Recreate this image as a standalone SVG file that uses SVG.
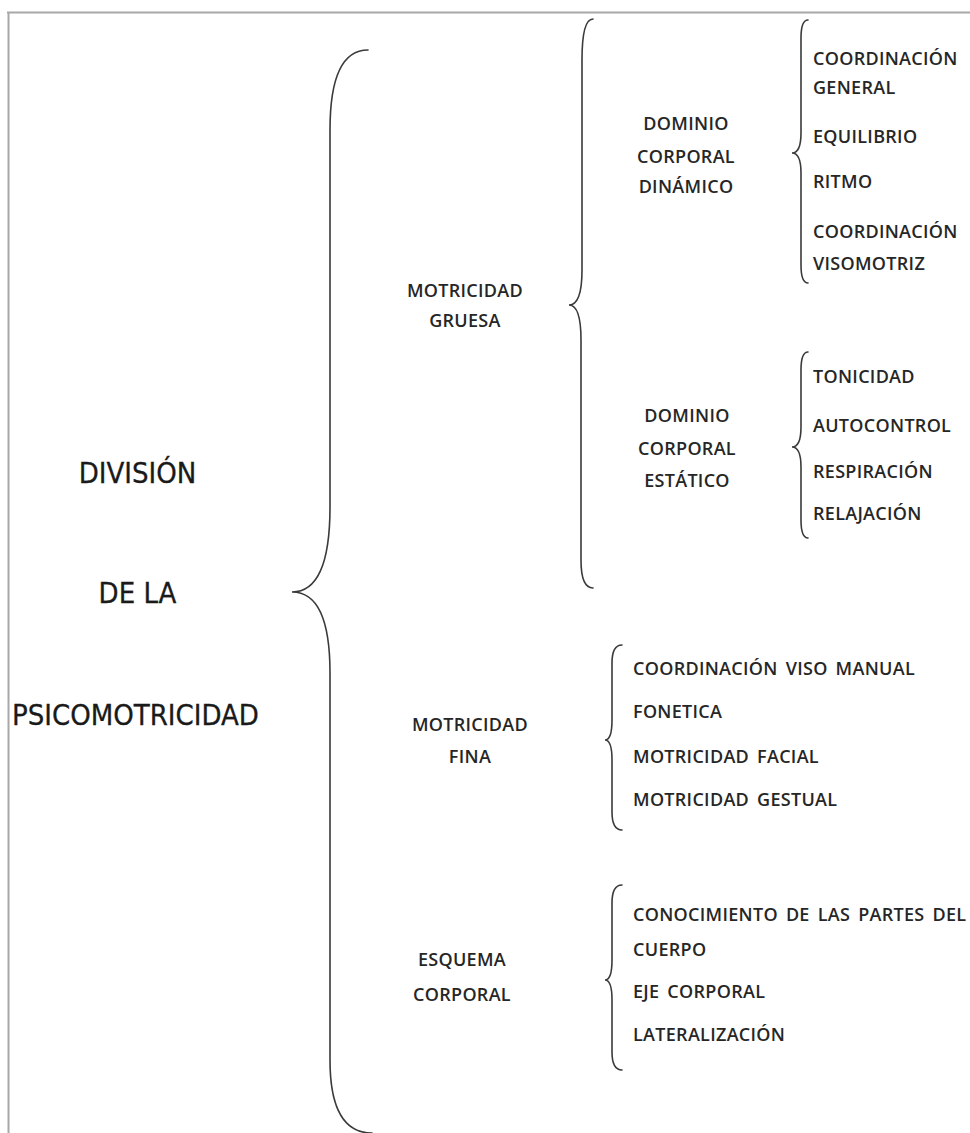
<svg xmlns="http://www.w3.org/2000/svg" width="970" height="1133" viewBox="0 0 970 1133">
<style>
.frame{stroke:#a8a8a8;stroke-width:2;fill:none}
.brace{stroke:#3a3a3a;stroke-width:1.6;fill:none;stroke-linecap:round}
.t{font-family:"DejaVu Sans Condensed","DejaVu Sans",sans-serif;font-stretch:condensed;font-size:29px;fill:#1a1a1a;stroke:#1a1a1a;stroke-width:0.3}
.l{font-family:"Open Sans","Liberation Sans",sans-serif;font-weight:600;font-size:18px;letter-spacing:0.3px;word-spacing:3px;fill:#262626}
.c{text-anchor:middle}
</style>
<rect x="0" y="0" width="970" height="1133" fill="#fff"/>
<path class="frame" d="M7,12.5 H970 M8.5,12 V1133"/>
<g id="connectors">
<path class="brace" d="M368,50 Q330,50 330,130 L330,507 Q330,592 292,592 Q330,592 330,673 L330,1060 Q330,1133 372,1133"/>
<path class="brace" d="M593,19 Q582,19 582,60 L582,270 Q582,305 569,305 Q581,305 581,340 L581,560 Q581,588 593,588"/>
<path class="brace" d="M808,20 Q801,20 801,38 L801,133 Q801,153 792,153 Q801,153 801,173 L801,265 Q801,283 808,283"/>
<path class="brace" d="M808,352 Q801,352 801,370 L801,427 Q801,447 792,447 Q801,447 801,467 L801,520 Q801,538 808,538"/>
<path class="brace" d="M622,645 Q612,645 612,663 L612,720 Q612,740 605,740 Q612,740 612,760 L612,812 Q612,830 622,830"/>
<path class="brace" d="M622,885 Q612,885 612,903 L612,960 Q612,980 605,980 Q612,980 612,1000 L612,1052 Q612,1070 622,1070"/>
</g>
<g id="root">
<text class="t c" x="137.5" y="483">DIVISIÓN</text>
<text class="t c" x="137.5" y="603">DE LA</text>
<text class="t" x="12" y="725">PSICOMOTRICIDAD</text>
</g>
<g id="motricidad-gruesa">
<text class="l c" x="465" y="297">MOTRICIDAD</text>
<text class="l c" x="465" y="327">GRUESA</text>
</g>
<g id="dominio-dinamico">
<text class="l c" x="686" y="130">DOMINIO</text>
<text class="l c" x="686" y="163">CORPORAL</text>
<text class="l c" x="686" y="193">DINÁMICO</text>
</g>
<g id="items-dinamico">
<text class="l" x="813" y="65">COORDINACIÓN</text>
<text class="l" x="813" y="94">GENERAL</text>
<text class="l" x="813" y="143">EQUILIBRIO</text>
<text class="l" x="813" y="188">RITMO</text>
<text class="l" x="813" y="238">COORDINACIÓN</text>
<text class="l" x="813" y="270">VISOMOTRIZ</text>
</g>
<g id="dominio-estatico">
<text class="l c" x="687" y="422">DOMINIO</text>
<text class="l c" x="687" y="455">CORPORAL</text>
<text class="l c" x="687" y="487">ESTÁTICO</text>
</g>
<g id="items-estatico">
<text class="l" x="813" y="383">TONICIDAD</text>
<text class="l" x="813" y="432">AUTOCONTROL</text>
<text class="l" x="813" y="478">RESPIRACIÓN</text>
<text class="l" x="813" y="520">RELAJACIÓN</text>
</g>
<g id="motricidad-fina">
<text class="l c" x="470" y="731">MOTRICIDAD</text>
<text class="l c" x="470" y="763">FINA</text>
</g>
<g id="items-fina">
<text class="l" x="633" y="675">COORDINACIÓN VISO MANUAL</text>
<text class="l" x="633" y="718">FONETICA</text>
<text class="l" x="633" y="763">MOTRICIDAD FACIAL</text>
<text class="l" x="633" y="806">MOTRICIDAD GESTUAL</text>
</g>
<g id="esquema-corporal">
<text class="l c" x="462" y="966">ESQUEMA</text>
<text class="l c" x="462" y="1001">CORPORAL</text>
</g>
<g id="items-esquema">
<text class="l" x="633" y="921">CONOCIMIENTO DE LAS PARTES DEL</text>
<text class="l" x="633" y="956">CUERPO</text>
<text class="l" x="633" y="998">EJE CORPORAL</text>
<text class="l" x="633" y="1041">LATERALIZACIÓN</text>
</g>
</svg>
